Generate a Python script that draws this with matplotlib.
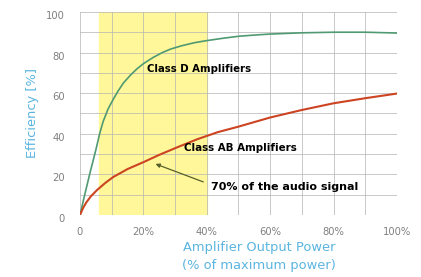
import numpy as np
import matplotlib
matplotlib.use("Agg")
import matplotlib.pyplot as plt
import matplotlib.transforms as mtransforms

plt.rcParams['font.family'] = ['DejaVu Sans']

# curve readings (% of max power, efficiency %)
class_d_x = [0, 1.5, 3.2, 5, 6.2, 7.3, 8.8, 10.5, 12, 13.7, 16, 18, 20, 23, 26,
             28.6, 32, 36, 39.7, 45, 50, 55, 60, 70, 80, 90, 100]
class_d_y = [0, 10, 21, 32, 40, 46, 52, 57, 61, 65, 69, 72, 74.5, 77.5, 80,
             81.7, 83.3, 84.8, 85.8, 87, 88, 88.6, 89.1, 89.7, 90, 90, 89.6]
class_ab_x = [0, 1, 2, 3.5, 5.4, 8, 10.5, 15, 20, 25, 30.8, 37, 43.5, 50, 60, 70, 80, 90, 100]
class_ab_y = [0, 3.5, 6.2, 9.3, 12.3, 15.8, 18.7, 22.6, 26, 29.6, 33.4, 37.3, 40.8, 43.5, 48,
              51.7, 55, 57.5, 59.8]

x_ticks = [0, 20, 40, 60, 80, 100]
x_tick_labels = ['0', '20%', '40%', '60%', '80%', '100%']
y_ticks = [0, 20, 40, 60, 80, 100]
band = [6, 40]

fig = plt.figure(figsize=(4.21, 2.77), dpi=100)
ax = fig.add_axes([0.19, 0.224, 0.753, 0.733])

ax.axvspan(band[0], band[1], color='#fff799', zorder=0)
ax.set_xticks(np.arange(0, 101, 10), minor=True)
ax.set_yticks(np.arange(0, 101, 10), minor=True)
ax.grid(which='both', color='#b4b4b4', linewidth=0.5, zorder=1)

ax.plot(class_d_x, class_d_y, color='#4f9a72', linewidth=1.2, zorder=3)
ax.plot(class_ab_x, class_ab_y, color='#cc4422', linewidth=1.5, zorder=3)

ax.text(21, 72, 'Class D Amplifiers', fontsize=7.3, fontweight='bold', va='center', zorder=4)
ax.text(32.7, 33, 'Class AB Amplifiers', fontsize=7.4, fontweight='bold', va='center', zorder=4)
ax.text(41.3, 13.8, '70% of the audio signal', fontsize=8, fontweight='bold', va='center', zorder=4)
ax.annotate('', xy=(23, 25.6), xytext=(39.7, 15.8),
            arrowprops=dict(arrowstyle='-|>', color='#55602a', lw=0.9, mutation_scale=6), zorder=4)

ax.set_xlim(0, 100)
ax.set_ylim(0, 100)
ax.set_xticks(x_ticks)
ax.set_xticklabels(x_tick_labels)
ax.set_yticks(y_ticks)
ax.tick_params(which='both', length=0, labelsize=7.2, labelcolor='#808080')
ax.tick_params(axis='x', pad=9)
ax.tick_params(axis='y', pad=11)
shift = mtransforms.ScaledTranslation(0, -3 / 100, fig.dpi_scale_trans)
for lbl in ax.get_yticklabels():
    lbl.set_transform(lbl.get_transform() + shift)
for s in ax.spines.values():
    s.set_visible(False)

ax.set_xlabel('Amplifier Output Power\n(% of maximum power)', color='#5bb5e0', fontsize=9.4,
              linespacing=1.45)
ax.xaxis.set_label_coords(0.565, -0.13, transform=ax.transAxes)
ax.xaxis.label.set_va('top')
ax.set_ylabel('Efficiency [%]', color='#5bb5e0', fontsize=9.4, labelpad=5)

fig.savefig('out.png', dpi=100)
